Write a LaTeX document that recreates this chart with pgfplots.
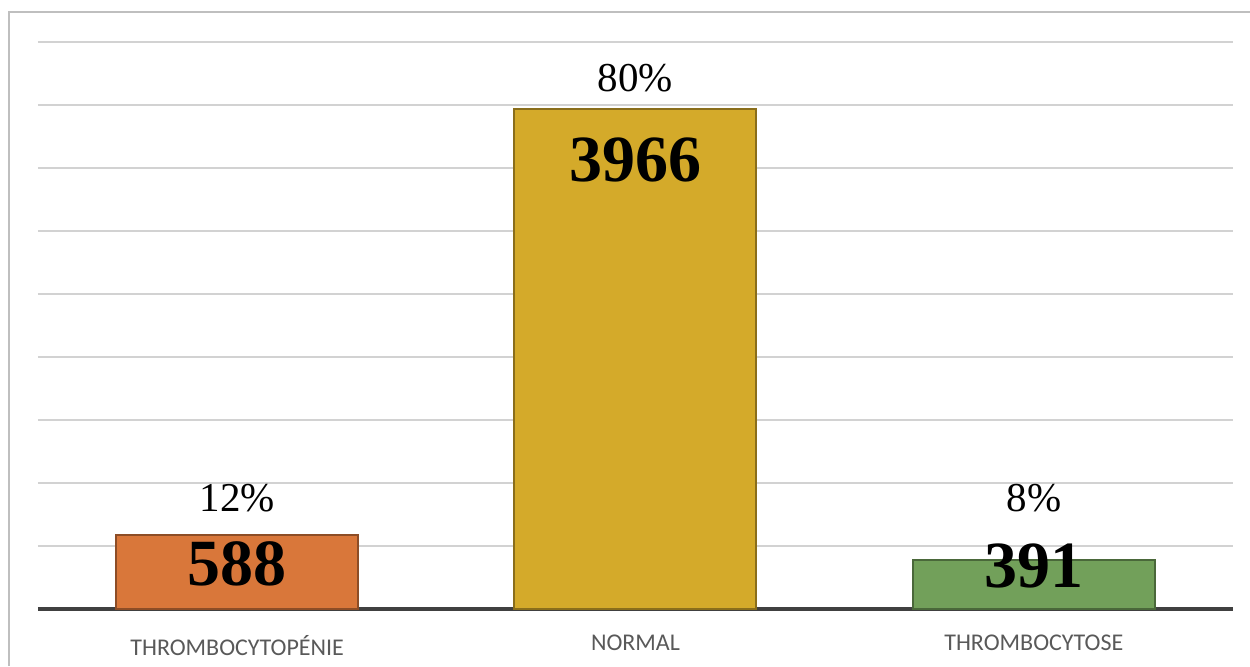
\documentclass[border=0pt]{standalone}
\usepackage{pgfplots}
\pgfplotsset{compat=1.18}
\usepackage{fontspec}
\setmainfont{Liberation Serif}
\newfontfamily\carlito{Carlito}

\definecolor{barorange}{RGB}{217,119,58}
\definecolor{bargold}{RGB}{212,170,42}
\definecolor{bargreen}{RGB}{114,160,90}
\definecolor{gridgray}{RGB}{210,210,210}
\definecolor{axisgray}{RGB}{64,64,64}
\definecolor{labelgray}{RGB}{89,89,89}
\definecolor{framegray}{RGB}{191,191,191}

\begin{document}
\begin{tikzpicture}
\useasboundingbox (-19pt,-28.5pt) rectangle (606pt,304.5pt);
% chart frame
\draw[framegray,line width=0.8pt] (-14.5pt,-28.5pt) -- (-14.5pt,298.5pt) -- (606pt,298.5pt);
\begin{axis}[
  scale only axis,
  width=597.5pt, height=283.5pt,
  xmin=-0.5, xmax=2.5,
  ymin=0, ymax=4500,
  ytick={0,500,...,4500},
  yticklabels={},
  ymajorgrids,
  grid style={gridgray,line width=0.8pt},
  major tick length=0pt,
  axis x line*=bottom,
  axis y line*=left,
  y axis line style={draw=none},
  x axis line style={axisgray,line width=1.6pt,-},
  xtick={0,1,2},
  xticklabels={THROMBOCYTOPÉNIE,NORMAL,THROMBOCYTOSE},
  xticklabel style={font=\carlito\fontsize{12}{14}\selectfont,text=labelgray,yshift=-9.5pt},
  ybar, bar width=121pt, bar shift=0pt,
  nodes near coords,
  /pgf/number format/assume math mode=true,
  /pgf/number format/1000 sep={},
  every node near coord/.append style={font=\bfseries\fontsize{33}{36}\selectfont,text=black,anchor=center},
  clip=false,
]
\addplot[fill=barorange,draw=barorange!65!black,line width=1pt,
  every node near coord/.append style={yshift=-14.5pt}] coordinates {(0,588)};
\addplot[fill=bargold,draw=bargold!65!black,line width=1pt,
  every node near coord/.append style={yshift=-25.5pt}] coordinates {(1,3966)};
\addplot[fill=bargreen,draw=bargreen!65!black,line width=1pt,
  every node near coord/.append style={yshift=-3pt}] coordinates {(2,391)};
% share of each group
\node[font=\fontsize{20.5}{24}\selectfont,anchor=center] at (axis cs:0,881) {12\%};
\node[font=\fontsize{20.5}{24}\selectfont,anchor=center] at (axis cs:1,4214) {80\%};
\node[font=\fontsize{20.5}{24}\selectfont,anchor=center] at (axis cs:2,881) {8\%};
\end{axis}
\end{tikzpicture}
\end{document}
